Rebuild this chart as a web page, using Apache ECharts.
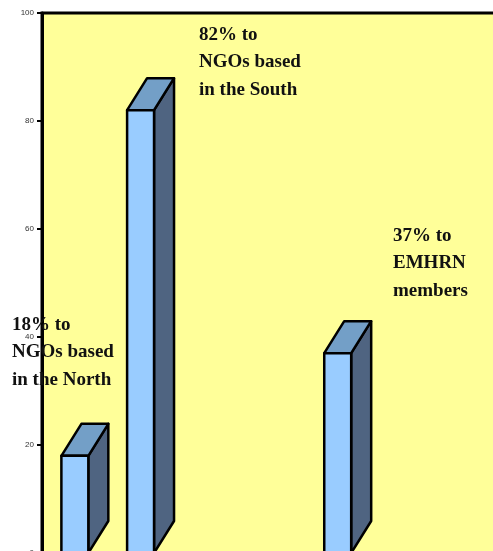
<!DOCTYPE html>
<html><head><meta charset="utf-8">
<script src="https://cdn.jsdelivr.net/npm/echarts@6/dist/echarts.min.js"></script>
<style>html,body{margin:0;padding:0;background:#fff}#c{width:493px;height:551px}</style>
</head><body><div id="c"></div>
<script>
const categories = ['North', 'South', 'gapA', 'gapB', 'EMHRN', 'gapC', 'gapD'];
const shares = [18, 82, null, null, 37, null, null];
const yTicks = [0, 20, 40, 60, 80, 100];
const noteNorth = ['18% to', 'NGOs based', 'in the North'];
const noteSouth = ['82% to', 'NGOs based', 'in the South'];
const noteEmhrn = ['37% to', 'EMHRN', 'members'];

const chart = echarts.init(document.getElementById('c'));
const DX = 20, DY = -32;
function renderItem(params, api) {
  const v = api.value(1);
  if (v == null || isNaN(v)) return null;
  const top = api.coord([api.value(0), v]);
  const bot = api.coord([api.value(0), 0]);
  const w = api.size([1, 0])[0] * 0.41;
  const l = top[0] - w / 2, r = top[0] + w / 2;
  const ln = {stroke: '#000', lineWidth: 2.5, lineJoin: 'round'};
  return {type: 'group', children: [
    {type: 'polygon', shape: {points: [[r, top[1]], [r + DX, top[1] + DY], [r + DX, bot[1] + DY], [r, bot[1]]]},
      style: Object.assign({fill: '#4F6481'}, ln)},
    {type: 'polygon', shape: {points: [[l, top[1]], [l + DX, top[1] + DY], [r + DX, top[1] + DY], [r, top[1]]]},
      style: Object.assign({fill: '#739FC7'}, ln)},
    {type: 'rect', shape: {x: l, y: top[1], width: w, height: bot[1] - top[1]},
      style: Object.assign({fill: '#99CCFF'}, ln)}
  ]};
}
function note(lines, x, y) {
  return {type: 'text', left: x, top: y, style: {text: lines.join('\n'), font: 'bold 19px "Liberation Serif", serif', lineHeight: 27.5, fill: '#111'}, z: 100};
}
chart.setOption({
  animation: false,
  grid: {left: 42, top: 13, width: 460, height: 540, outerBoundsMode: 'none', containLabel: false,
    show: true, backgroundColor: '#FFFF99', borderColor: '#000', borderWidth: 3},
  xAxis: {type: 'category', data: categories, axisLine: {show: false}, axisTick: {show: false}, axisLabel: {show: false}},
  yAxis: {type: 'value', min: yTicks[0], max: yTicks[yTicks.length - 1], interval: yTicks[1] - yTicks[0],
    splitLine: {show: false},
    axisLine: {show: true, lineStyle: {color: '#000', width: 3}},
    axisTick: {show: true, length: 5, lineStyle: {color: '#000', width: 2}},
    axisLabel: {fontSize: 8, color: '#333', margin: 8, fontFamily: 'Liberation Sans, Arial, sans-serif'}},
  series: [{type: 'custom', renderItem: renderItem, clip: false,
    data: shares.map((v, i) => [i, v])}],
  graphic: [note(noteNorth, 12, 311), note(noteSouth, 199, 21), note(noteEmhrn, 393, 222)]
});
</script></body></html>
